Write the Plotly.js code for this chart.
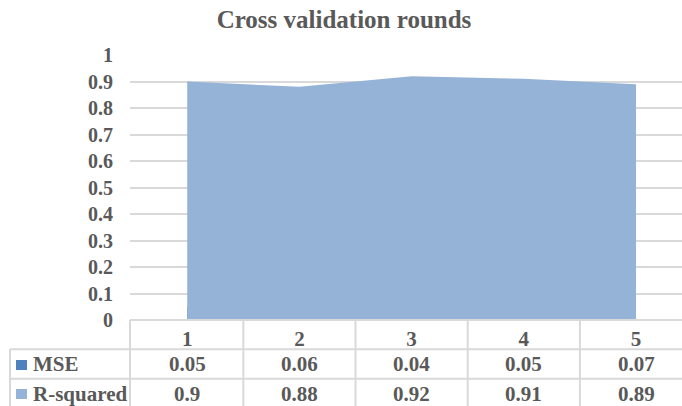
<!DOCTYPE html>
<html>
<head>
<meta charset="utf-8">
<script src="https://cdn.plot.ly/plotly-3.0.1.min.js"></script>
<style>html,body{margin:0;padding:0;overflow:hidden;background:#fff}#chart{width:682px;height:406px}</style>
</head>
<body>
<div id="chart"></div>
<script>
const rounds = ["1", "2", "3", "4", "5"];
const mse = [0.05, 0.06, 0.04, 0.05, 0.07];
const rSquared = [0.9, 0.88, 0.92, 0.91, 0.89];
const seriesNames = ["MSE", "R-squared"];
const seriesColors = ["#4f81bd", "#95b3d7"];
const chartTitle = "Cross validation rounds";

const W = 682, H = 406;
const M = {l: 130, r: 0, t: 55, b: 86};
const plotW = W - M.l - M.r, plotH = H - M.t - M.b;
const xRange = [-0.51, 4.41];
const fontFam = "'Liberation Serif', 'Times New Roman', serif";
const textCol = "#595959";
const lineCol = "#d9d9d9";

const pxX = px => (px - M.l) / plotW;            // pixel -> paper x
const pxY = py => (H - M.b - py) / plotH;         // pixel -> paper y
const catX = v => (v - xRange[0]) / (xRange[1] - xRange[0]); // category index -> paper x

const traces = [
  {x: rounds, y: mse, name: seriesNames[0], type: "scatter", mode: "none",
   fill: "tozeroy", fillcolor: seriesColors[0], showlegend: false},
  {x: rounds, y: rSquared, name: seriesNames[1], type: "scatter", mode: "none",
   fill: "tozeroy", fillcolor: seriesColors[1], showlegend: false}
];

const shapes = [];
const line = (x0, y0, x1, y1) => shapes.push({type: "line", xref: "paper", yref: "paper",
  x0, y0, x1, y1, line: {color: lineCol, width: 2}});

const rowTop = 320, row1 = 349.3, row2 = 378.7, rowBot = 420;
// horizontal table lines
line(pxX(130), pxY(rowTop), 1.05, pxY(rowTop));
line(pxX(10), pxY(row1), 1.05, pxY(row1));
line(pxX(10), pxY(row2), 1.05, pxY(row2));
// vertical table lines
line(pxX(10), pxY(row1), pxX(10), pxY(rowBot));
line(pxX(130), pxY(rowTop), pxX(130), pxY(rowBot));
for (let i = 0; i < rounds.length; i++) {
  const xp = catX(i + 0.5);
  if (xp < 1.0) line(xp, pxY(rowTop), xp, pxY(rowBot));
}
// legend keys
const keyRows = [365, 394];
keyRows.forEach((cy, k) => shapes.push({type: "rect", xref: "paper", yref: "paper",
  x0: pxX(16), x1: pxX(27), y0: pxY(cy + 5), y1: pxY(cy - 5),
  line: {width: 0}, fillcolor: seriesColors[k]}));

const annotations = [];
const tFont = {family: fontFam, size: 21, color: textCol, weight: "bold"};
const rowCenters = [364, 393.5];
const rows = [mse, rSquared];
rows.forEach((vals, r) => {
  annotations.push({xref: "paper", yref: "paper", x: pxX(31), y: pxY(rowCenters[r]),
    xanchor: "left", yanchor: "middle", text: "<b>" + seriesNames[r] + "</b>",
    showarrow: false, font: tFont});
  vals.forEach((v, i) => annotations.push({xref: "x", yref: "paper", x: i,
    y: pxY(rowCenters[r]), xanchor: "center", yanchor: "middle",
    text: "<b>" + v + "</b>", showarrow: false, font: tFont}));
});

const layout = {
  width: W, height: H, margin: M,
  paper_bgcolor: "#fff", plot_bgcolor: "#fff",
  title: {text: "<b>" + chartTitle + "</b>", xref: "container", yref: "container",
    x: 344 / W, xanchor: "center", y: 1 - 19 / H, yanchor: "middle",
    font: {family: fontFam, size: 25, color: textCol}},
  xaxis: {type: "category", range: xRange, showgrid: false, zeroline: false,
    showline: false, ticks: "", ticklabelstandoff: 4,
    tickfont: {family: fontFam, size: 21, color: textCol, weight: "bold"}},
  yaxis: {range: [0, 1], dtick: 0.1, showgrid: true, gridcolor: lineCol, gridwidth: 2,
    zeroline: false, showline: false, ticks: "", ticklabelstandoff: 16,
    tickfont: {family: fontFam, size: 20, color: textCol, weight: "bold"}},
  shapes, annotations, showlegend: false, hovermode: false
};

Plotly.newPlot("chart", traces, layout, {staticPlot: true, displayModeBar: false});
</script>
</body>
</html>
